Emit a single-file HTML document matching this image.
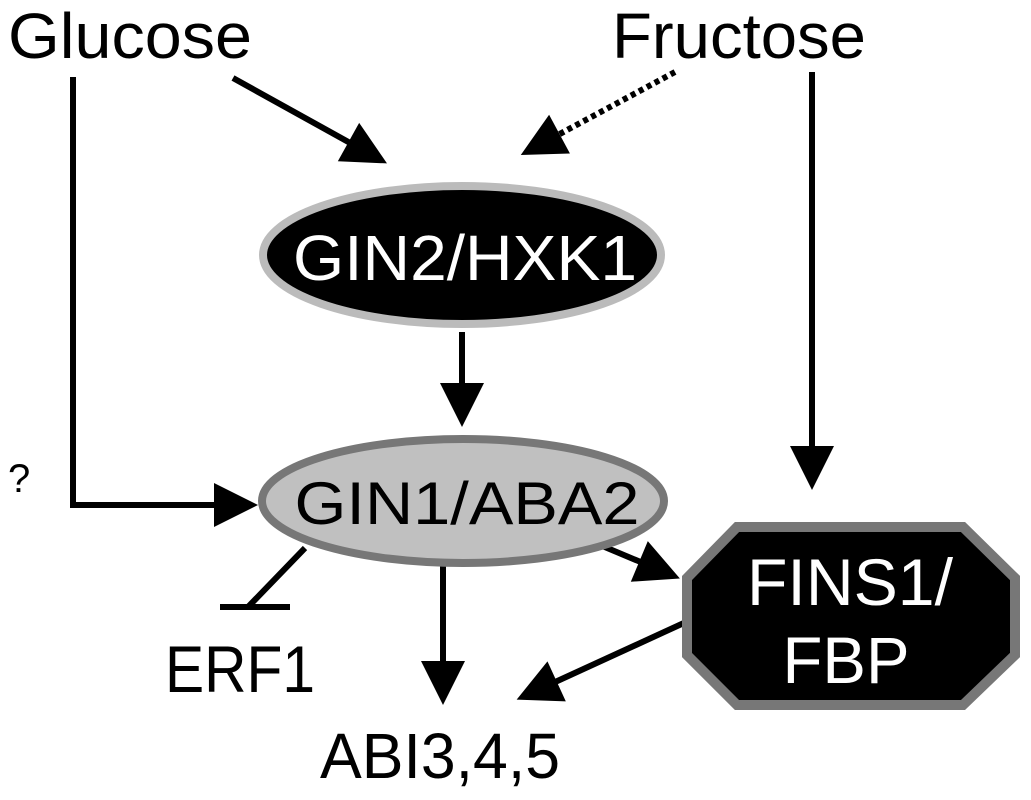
<!DOCTYPE html>
<html><head><style>html,body{margin:0;padding:0;background:#fff}svg{display:block}</style></head>
<body>
<svg width="1031" height="800" viewBox="0 0 1031 800" xmlns="http://www.w3.org/2000/svg" font-family="Liberation Sans, Arial, sans-serif">
<defs>
<marker id="a" markerUnits="userSpaceOnUse" markerWidth="48" markerHeight="48" refX="4" refY="22" orient="auto" overflow="visible">
<path d="M0,0 L44,22 L0,44 Z" fill="#000"/>
</marker>
</defs>
<text x="8" y="58" font-size="64" textLength="244" lengthAdjust="spacingAndGlyphs">Glucose</text>
<text x="612" y="58" font-size="64" textLength="254" lengthAdjust="spacingAndGlyphs">Fructose</text>
<text x="8" y="492" font-size="40">?</text>
<text x="165" y="692" font-size="66" textLength="150" lengthAdjust="spacingAndGlyphs">ERF1</text>
<text x="320" y="778" font-size="64" textLength="240" lengthAdjust="spacingAndGlyphs">ABI3,4,5</text>

<g stroke="#000" stroke-width="6" fill="none">
<line x1="233" y1="78" x2="352" y2="144" marker-end="url(#a)"/>
<line x1="675" y1="72" x2="556" y2="136" stroke-dasharray="5,4" marker-end="url(#a)"/>
<polyline points="73,77 73,505 218,505" marker-end="url(#a)"/>
<line x1="812" y1="72" x2="812" y2="450" marker-end="url(#a)"/>
<line x1="462" y1="332" x2="462" y2="387" marker-end="url(#a)"/>
<line x1="443" y1="566" x2="443" y2="665" marker-end="url(#a)"/>
<line x1="600" y1="545" x2="643" y2="563" marker-end="url(#a)"/>
<line x1="686" y1="622" x2="553" y2="683" marker-end="url(#a)"/>
<line x1="305" y1="548" x2="248" y2="607"/>
<line x1="220" y1="607" x2="290" y2="607"/>
</g>

<ellipse cx="462" cy="255" rx="199" ry="69" fill="#000" stroke="#bbb" stroke-width="8"/>
<text x="465" y="280" font-size="64" fill="#fff" text-anchor="middle" textLength="344" lengthAdjust="spacingAndGlyphs">GIN2/HXK1</text>

<ellipse cx="463" cy="501" rx="201" ry="62" fill="#c0c0c0" stroke="#777" stroke-width="8"/>
<text x="467" y="524" font-size="60" fill="#000" text-anchor="middle" textLength="345" lengthAdjust="spacingAndGlyphs">GIN1/ABA2</text>

<polygon points="737,527 963,527 1015,578 1015,655 963,705 737,705 687,655 687,578" fill="#000" stroke="#777" stroke-width="10" stroke-linejoin="miter"/>
<text x="850" y="605" font-size="66" fill="#fff" text-anchor="middle" textLength="206" lengthAdjust="spacingAndGlyphs">FINS1/</text>
<text x="846" y="683" font-size="66" fill="#fff" text-anchor="middle" textLength="127" lengthAdjust="spacingAndGlyphs">FBP</text>
</svg>
</body></html>
